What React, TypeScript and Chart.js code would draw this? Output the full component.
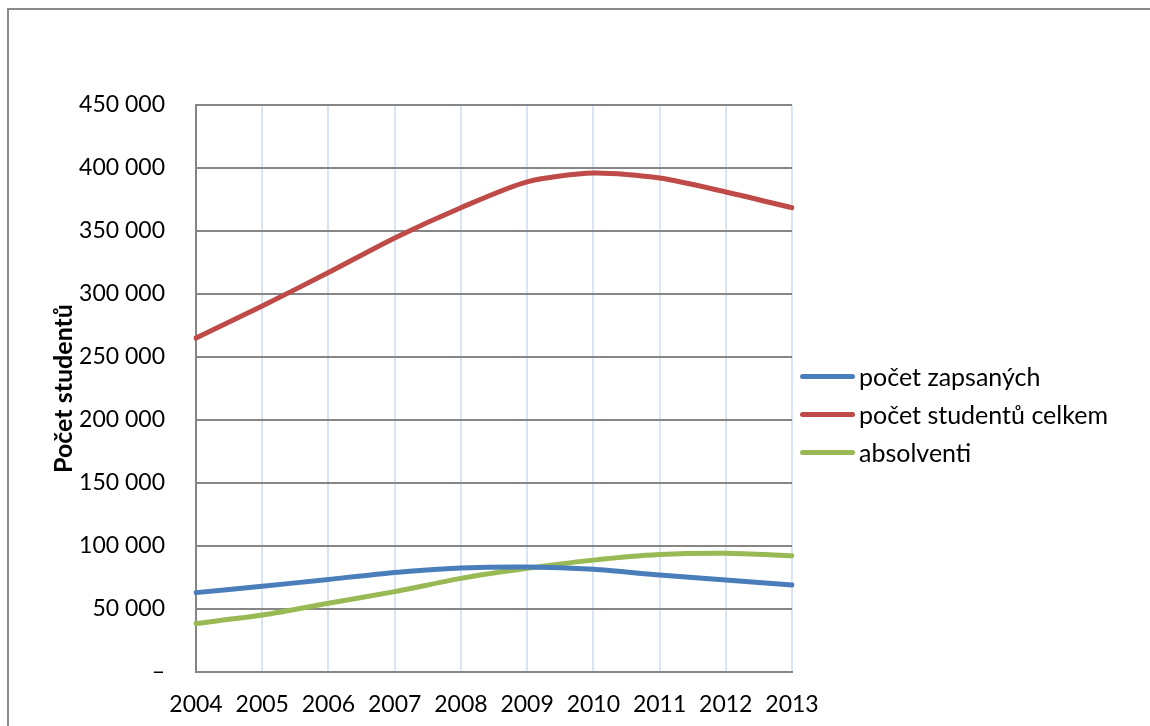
import React, { useEffect, useRef } from "react";
import { Chart, registerables } from "chart.js";

Chart.register(...registerables);

const years = ["2004", "2005", "2006", "2007", "2008", "2009", "2010", "2011", "2012", "2013"];
const zapsanych = [63000, 68000, 73500, 79000, 82500, 83300, 81500, 77000, 73000, 69000];
const celkem = [265000, 290500, 317000, 344500, 368500, 389000, 396000, 392000, 381000, 368500];
const absolventi = [38500, 45200, 54500, 63800, 74300, 82300, 88800, 93200, 94300, 92300];
const seriesNames = ["počet zapsaných", "počet studentů celkem", "absolventi"];
const seriesColors = ["#4a7ebb", "#be4b48", "#98b954"];
const yTitle = "Počet studentů";

const FONT = "Lato, 'Open Sans', sans-serif";

function fmt(v: number): string {
  if (v === 0) return "–";
  return String(v).replace(/\B(?=(\d{3})+(?!\d))/g, " ");
}

export default function App() {
  const ref = useRef<HTMLCanvasElement | null>(null);
  useEffect(() => {
    if (!ref.current) return;
    const allData = [zapsanych, celkem, absolventi];
    const chart = new Chart(ref.current, {
      type: "line",
      data: {
        labels: years,
        datasets: allData.map((d, i) => ({
          label: seriesNames[i],
          data: d,
          borderColor: seriesColors[i],
          backgroundColor: seriesColors[i],
          borderWidth: 5,
          borderCapStyle: "round" as const,
          pointRadius: 0,
          tension: 0.25,
          fill: false,
        })),
      },
      options: {
        animation: false,
        responsive: false,
        maintainAspectRatio: false,
        layout: { padding: { left: 49, right: 358, top: 105, bottom: 0 } },
        plugins: { legend: { display: false }, tooltip: { enabled: false } },
        scales: {
          x: {
            offset: false,
            grid: {
              color: (ctx: any) => (ctx.index === 0 ? "rgba(0,0,0,0)" : "#dbe4f2"),
              lineWidth: 2,
              drawTicks: false,
            },
            border: { color: "#868686", width: 2 },
            ticks: { color: "#000", font: { family: FONT, size: 23 }, padding: 19, maxRotation: 0 },
            afterFit: (s: any) => { s.height = 54; },
          },
          y: {
            min: 0,
            max: 450000,
            grid: { color: "#868686", lineWidth: 2, drawTicks: false },
            border: { color: "#868686", width: 2 },
            ticks: {
              stepSize: 50000,
              color: "#000",
              font: { family: FONT, size: 23 },
              padding: 31,
              callback: (v: any) => fmt(Number(v)),
            },
            title: {
              display: true,
              text: yTitle,
              color: "#000",
              font: { family: FONT, size: 25, weight: "bold" },
              padding: { top: 0, bottom: 0 },
            },
            afterFit: (s: any) => { s.width = 147; },
          },
        },
      },
    });
    return () => chart.destroy();
  }, []);

  return (
    <div style={{ position: "fixed", left: 0, top: 0, width: 1150, height: 726, overflow: "hidden", background: "#fff" }}>
      <div
        style={{
          position: "absolute",
          left: 7,
          top: 8,
          width: 1300,
          height: 900,
          borderTop: "2px solid #8a8a8a",
          borderLeft: "2px solid #8a8a8a",
        }}
      />
      <canvas ref={ref} width={1150} height={726} style={{ position: "absolute", left: 0, top: 0, width: 1150, height: 726 }} />
      <div style={{ position: "absolute", left: 800, top: 357, fontFamily: FONT, fontSize: 25, color: "#000" }}>
        {seriesNames.map((n, i) => (
          <div key={n} style={{ display: "flex", alignItems: "center", height: 38 }}>
            <span style={{ display: "inline-block", width: 55, height: 5, borderRadius: 3, background: seriesColors[i], marginRight: 4 }} />
            <span>{n}</span>
          </div>
        ))}
      </div>
    </div>
  );
}
